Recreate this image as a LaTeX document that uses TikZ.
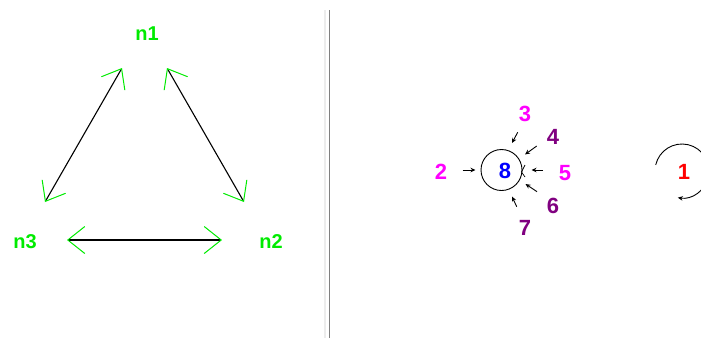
\documentclass[tikz,border=0pt]{standalone}
\usepackage{fontspec}
\setmainfont{Liberation Sans}
\usetikzlibrary{arrows.meta}
\definecolor{lgreen}{RGB}{0,235,0}
\definecolor{mag}{RGB}{255,0,255}
\definecolor{purp}{RGB}{128,0,128}
\tikzset{
  nlabel/.style={text=lgreen,font=\fontsize{20}{20}\selectfont\bfseries,inner sep=0pt},
  numlabel/.style={font=\fontsize{22}{22}\selectfont\bfseries,inner sep=0pt},
  bigedge/.style={black,line width=1.1pt,
    {Straight Barb[color=lgreen,length=17pt,width=27pt,line width=1pt]}-{Straight Barb[color=lgreen,length=17pt,width=27pt,line width=1pt]}},
  smallarrow/.style={black,line width=0.9pt,-{Stealth[length=5pt,width=4.5pt]}},
}
\begin{document}
\begin{tikzpicture}[x=1pt,y=1pt]
\useasboundingbox (0,0) rectangle (701,-338);
% left panel labels
\node[nlabel] (n1) at (147,-34) {n1};
\node[nlabel] (n2) at (271,-242) {n2};
\node[nlabel] (n3) at (25,-242) {n3};
\coordinate (n1l) at (122,-68);
\coordinate (n1r) at (167,-68);
\coordinate (n3t) at (45,-202);
\coordinate (n2t) at (244,-202);
\coordinate (n3r) at (67,-240);
\coordinate (n2l) at (222,-240);
\draw[bigedge] (n3t) -- (n1l);
\draw[bigedge] (n1r) -- (n2t);
\draw[bigedge] (n3r) -- (n2l);
% divider
\draw[gray!15,line width=1.2pt] (325,-10) -- (325,-338);
\draw[gray,line width=1.6pt] (329.3,-10) -- (329.3,-338);
% right panel
\node[draw,circle,line width=0.9pt,minimum size=41pt,inner sep=0pt] (c8) at (501.5,-170) {};
\node[numlabel,text=blue] (l8) at (505,-171) {8};
\node[numlabel,text=mag] (l2) at (441,-172) {2};
\node[numlabel,text=mag] (l3) at (525,-114) {3};
\node[numlabel,text=purp] (l4) at (553,-137) {4};
\node[numlabel,text=mag] (l5) at (565,-173) {5};
\node[numlabel,text=purp] (l6) at (553,-206) {6};
\node[numlabel,text=purp] (l7) at (525,-228) {7};
\coordinate (a2s) at (462.7,-170); \coordinate (a2e) at (475.5,-170);
\coordinate (a3s) at (517.7,-132.3); \coordinate (a3e) at (512,-143);
\coordinate (a4s) at (536.7,-146); \coordinate (a4e) at (525,-154.5);
\coordinate (a5s) at (543,-170); \coordinate (a5e) at (531.5,-170);
\coordinate (a6s) at (537,-191.7); \coordinate (a6e) at (525.5,-184);
\coordinate (a7s) at (516.7,-206.7); \coordinate (a7e) at (512,-196.5);
\draw[smallarrow] (a2s) -- (a2e);
\draw[smallarrow] (a3s) -- (a3e);
\draw[smallarrow] (a4s) -- (a4e);
\draw[smallarrow] (a5s) -- (a5e);
\draw[smallarrow] (a6s) -- (a6e);
\draw[smallarrow] (a7s) -- (a7e);
\draw[black,line width=0.7pt] (525,-165) -- (521.5,-172) -- (525,-177);
% node 1 with self loop
\node[numlabel,text=red] (l1) at (684,-172) {1};
\coordinate (c1) at (682,-171);
\draw[black,line width=0.9pt,-{Stealth[length=5pt,width=4.5pt]}] ([shift={(167:27)}]c1) arc (167:-99:27);
\end{tikzpicture}
\end{document}
